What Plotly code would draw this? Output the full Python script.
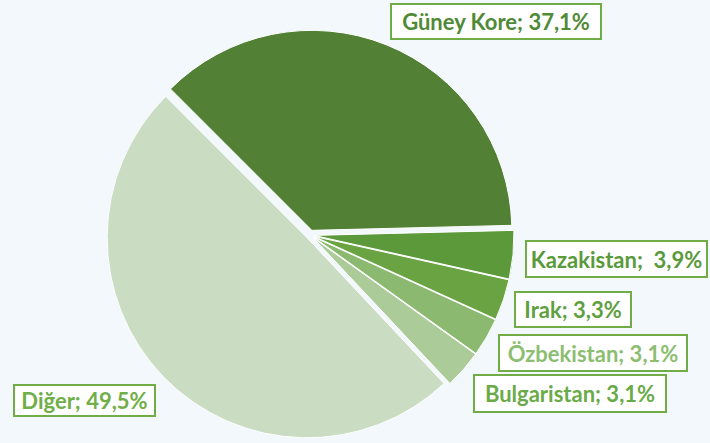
import plotly.graph_objects as go

labels = ["Güney Kore", "Kazakistan", "Irak", "Özbekistan", "Bulgaristan", "Diğer"]
values = [37.1, 3.9, 3.3, 3.1, 3.1, 49.5]
label_texts = ["Güney Kore; 37,1%", "Kazakistan;\u00a0 3,9%", "Irak; 3,3%",
               "Özbekistan; 3,1%", "Bulgaristan; 3,1%", "Diğer; 49,5%"]

slice_colors = ["#528034", "#5C993B", "#6AA342", "#8AB96F", "#ABCB98", "#CADDC2"]
text_colors = ["#4F8A36", "#5A9A3C", "#5FA03F", "#8CBE71", "#6AAA48", "#6FAE48"]
pulls = [0.025, 0.02, 0.02, 0.02, 0.02, 0.02]

# label box centres (px) and sizes
box_cx = [496, 616, 573, 593, 570, 84]
box_cy = [21.5, 259, 309.5, 353, 393, 400]
box_w = [212, 183, 118, 190, 194, 143]
box_h = [37, 38, 37, 38, 39, 33]

W, H = 710, 443
BG = "#F3F8FC"

# pie geometry (px): centre and radius
CX, CY, R = 310, 235, 200
half = R * (1 + max(pulls))
dom_x = [(CX - half) / W, (CX + half) / W]
dom_y = [(H - CY - half) / H, (H - CY + half) / H]

fig = go.Figure()
fig.add_trace(go.Pie(
    labels=labels, values=values, sort=False, direction="clockwise",
    rotation=-45, pull=pulls, textinfo="none", hoverinfo="label+percent",
    marker=dict(colors=slice_colors, line=dict(color="white", width=1)),
    domain=dict(x=dom_x, y=dom_y),
    showlegend=False,
))

for i, t in enumerate(label_texts):
    fig.add_annotation(
        x=box_cx[i] / W, y=1 - box_cy[i] / H, xref="paper", yref="paper",
        xanchor="center", yanchor="middle", showarrow=False,
        text="<b>" + t + "</b>",
        font=dict(family="Lato", size=22, color=text_colors[i]),
        bgcolor="white", bordercolor="#70AD47", borderwidth=2, borderpad=0,
        width=box_w[i] - 4, height=box_h[i] - 4,
    )

fig.update_layout(
    width=W, height=H, margin=dict(l=0, r=0, t=0, b=0),
    paper_bgcolor=BG, plot_bgcolor=BG,
)
fig.write_html(
    "out.html",
    config={"displayModeBar": False},
    post_script="document.body.style.margin='0';document.body.style.background='%s';" % BG,
)
